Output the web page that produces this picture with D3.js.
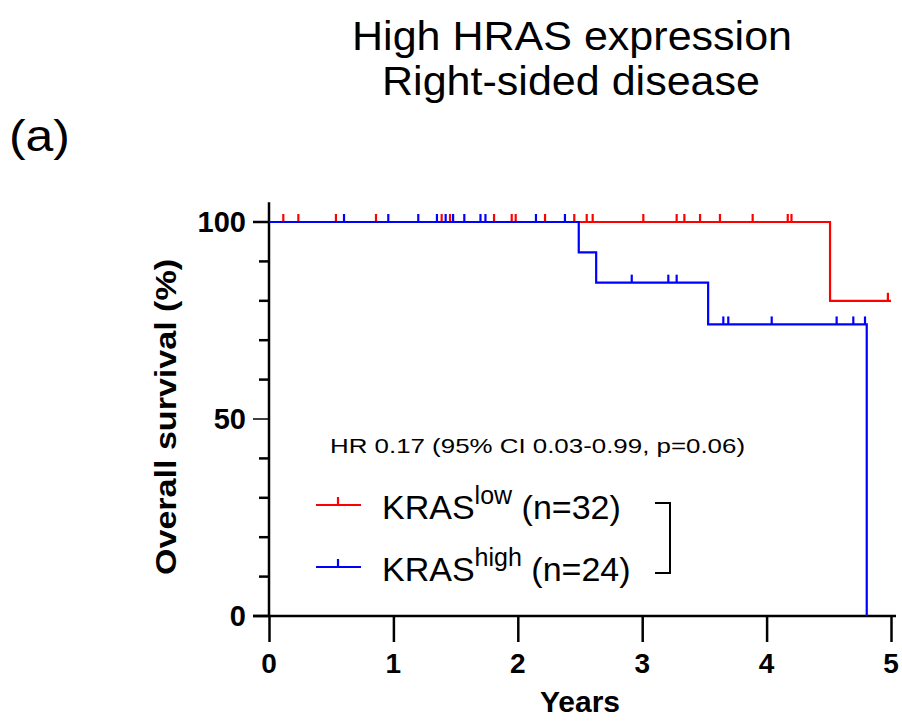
<!DOCTYPE html>
<html>
<head>
<meta charset="utf-8">
<script src="https://cdn.jsdelivr.net/npm/d3@7"></script>
<style>
  body { margin: 0; background: #fff; }
  svg { display: block; font-family: "Liberation Sans", Arial, sans-serif; }
</style>
</head>
<body>
<div id="chart"></div>
<script>
// Kaplan-Meier steps (years, survival %)
const lowStepYears = [0, 4.51, 5.0];
const lowStepSurv = [100, 80, 80];
const highStepYears = [0, 2.49, 2.63, 3.53, 4.805];
const highStepSurv = [100, 92.3, 84.6, 74.0, 0];

// censored observations (years)
const lowCensorYears = [0.115, 0.236, 0.538, 0.86, 1.388, 1.455, 1.809, 1.951, 1.983,
  2.219, 2.454, 2.554, 2.602, 3.009, 3.277, 3.339, 3.465, 3.625, 3.888, 4.17, 4.2, 4.975];
const highCensorYears = [0.603, 0.959, 1.2, 1.35, 1.42, 1.48, 1.57, 1.70, 1.74, 2.146, 2.379,
  2.916, 3.21, 3.277, 3.652, 3.692, 4.041, 4.563, 4.697, 4.791];

const xTicks = [0, 1, 2, 3, 4, 5];
const yMajorTicks = [0, 50, 100];
const yMinorTicks = [10, 20, 30, 40, 60, 70, 80, 90];

const width = 902, height = 721;
const svg = d3.select("#chart").append("svg")
  .attr("width", width)
  .attr("height", height);

const x = d3.scaleLinear().domain([0, 5]).range([269, 891]);
const y = d3.scaleLinear().domain([0, 100]).range([616, 222]);

// survival at time t from a step curve
function survAt(years, surv, t) {
  let s = surv[0];
  for (let i = 0; i < years.length; i++) if (years[i] <= t) s = surv[i];
  return s;
}

// titles
svg.append("text").attr("x", 572).attr("y", 50).attr("text-anchor", "middle")
  .attr("font-size", 40).attr("textLength", 440).attr("lengthAdjust", "spacingAndGlyphs")
  .text("High HRAS expression");
svg.append("text").attr("x", 571).attr("y", 95).attr("text-anchor", "middle")
  .attr("font-size", 40).attr("textLength", 378).attr("lengthAdjust", "spacingAndGlyphs")
  .text("Right-sided disease");
svg.append("text").attr("x", 9).attr("y", 151)
  .attr("font-size", 44).attr("textLength", 61).attr("lengthAdjust", "spacingAndGlyphs")
  .text("(a)");

// y axis
const yAxis = svg.append("g").attr("stroke", "#000").attr("stroke-width", 2.5);
yAxis.append("line").attr("x1", 269).attr("x2", 269).attr("y1", y(105)).attr("y2", y(0));
yAxis.selectAll(".major").data(yMajorTicks).join("line")
  .attr("x1", 253).attr("x2", 269).attr("y1", d => y(d)).attr("y2", d => y(d))
  .attr("stroke-width", d => d === 50 ? 1.5 : 2.5);
yAxis.selectAll(".minor").data(yMinorTicks).join("line")
  .attr("x1", 259).attr("x2", 269).attr("y1", d => y(d)).attr("y2", d => y(d));

svg.selectAll(".ylab").data(yMajorTicks).join("text")
  .attr("x", 246).attr("y", d => y(d) + 10).attr("text-anchor", "end")
  .attr("font-size", 29).attr("font-weight", "bold").text(d => d);

// x axis
const xAxis = svg.append("g")
  .attr("transform", `translate(0,${y(0)})`)
  .call(d3.axisBottom(x).tickValues(xTicks).tickSize(26).tickSizeOuter(0).tickFormat(""));
xAxis.select(".domain").remove();
xAxis.selectAll("line").attr("stroke", "#000").attr("stroke-width", 2.5);
svg.append("line").attr("x1", 253).attr("x2", 896).attr("y1", y(0)).attr("y2", y(0))
  .attr("stroke", "#000").attr("stroke-width", 2.5);
svg.selectAll(".xlab").data(xTicks).join("text")
  .attr("x", d => x(d)).attr("y", 673).attr("text-anchor", "middle")
  .attr("font-size", 28).attr("font-weight", "bold").text(d => d);

svg.append("text").attr("x", 580).attr("y", 712).attr("text-anchor", "middle")
  .attr("font-size", 30).attr("font-weight", "bold").text("Years");
svg.append("text").attr("transform", "translate(176,417) rotate(-90)")
  .attr("text-anchor", "middle").attr("font-size", 30).attr("font-weight", "bold")
  .attr("textLength", 316).attr("lengthAdjust", "spacingAndGlyphs")
  .text("Overall survival (%)");

// curves
const line = d3.line().curve(d3.curveStepAfter).x(d => x(d[0])).y(d => y(d[1]));
function drawGroup(years, surv, censors, color, endYear) {
  const pts = years.map((t, i) => [t, surv[i]]);
  const last = pts[pts.length - 1];
  if (last[0] < endYear) pts.push([endYear, last[1]]);
  svg.append("path").attr("d", line(pts)).attr("fill", "none")
    .attr("stroke", color).attr("stroke-width", 2.2);
  svg.append("g").selectAll("line").data(censors).join("line")
    .attr("x1", d => x(d)).attr("x2", d => x(d))
    .attr("y1", d => y(survAt(years, surv, d)))
    .attr("y2", d => y(survAt(years, surv, d)) - 8)
    .attr("stroke", color).attr("stroke-width", 2.2);
}
drawGroup(lowStepYears, lowStepSurv, lowCensorYears, "#ff0000", 5.0);
drawGroup(highStepYears, highStepSurv, highCensorYears, "#0000ff", 4.805);

// hazard ratio text
svg.append("text").attr("x", 330).attr("y", 453)
  .attr("font-size", 21).attr("textLength", 415).attr("lengthAdjust", "spacingAndGlyphs")
  .text("HR 0.17 (95% CI 0.03-0.99, p=0.06)");

// legend
const legend = [
  { name: "KRAS", sup: "low", n: "(n=32)", color: "#ff0000", y: 505 },
  { name: "KRAS", sup: "high", n: "(n=24)", color: "#0000ff", y: 567 }
];
const lg = svg.selectAll(".lg").data(legend).join("g");
lg.append("line").attr("x1", 316).attr("x2", 361).attr("y1", d => d.y).attr("y2", d => d.y)
  .attr("stroke", d => d.color).attr("stroke-width", 2.2);
lg.append("line").attr("x1", 338).attr("x2", 338).attr("y1", d => d.y).attr("y2", d => d.y - 8)
  .attr("stroke", d => d.color).attr("stroke-width", 2.2);
const lt = lg.append("text").attr("x", 382).attr("y", d => d.y + 14).attr("font-size", 34);
lt.append("tspan").text(d => d.name);
lt.append("tspan").attr("dy", -15).attr("font-size", 25).text(d => d.sup);
lt.append("tspan").attr("dy", 15).text(d => " " + d.n);

svg.append("path").attr("d", "M655,503H670V573H655").attr("fill", "none")
  .attr("stroke", "#000").attr("stroke-width", 2);
</script>
</body>
</html>
